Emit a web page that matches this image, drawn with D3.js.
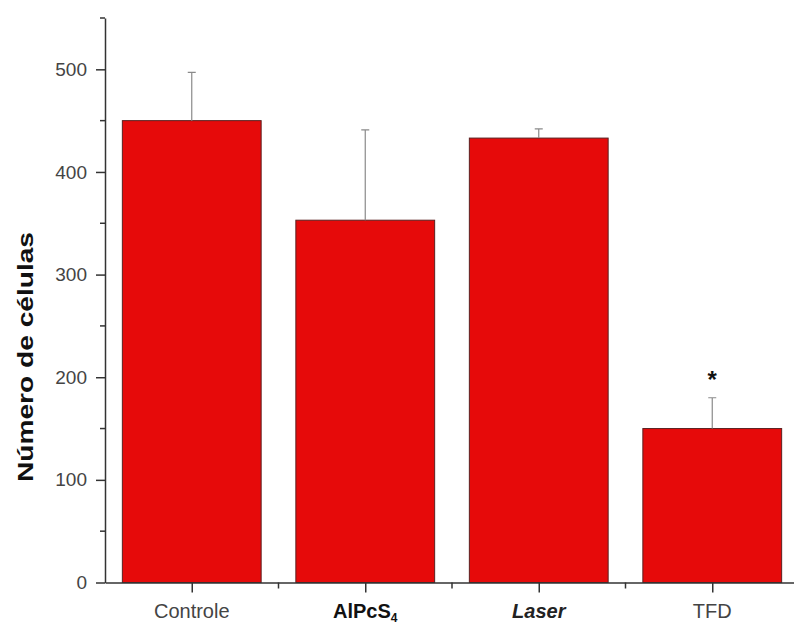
<!DOCTYPE html>
<html>
<head>
<meta charset="utf-8">
<script src="https://cdn.jsdelivr.net/npm/d3@7"></script>
<style>
  html, body { margin: 0; padding: 0; background: #fff; }
  svg { display: block; }
</style>
</head>
<body>
<div id="plot"></div>
<script>
// values
const categories = ["Controle", "AlPcS4", "Laser", "TFD"];
const means = [450, 353, 433, 150];
const errors = [47, 88, 9, 30];
const marked = [false, false, false, true];
const y_major = [0, 100, 200, 300, 400, 500];
const y_minor = [50, 150, 250, 350, 450, 550];

const width = 794;
const height = 626;

const svg = d3.select("#plot").append("svg")
    .attr("width", width)
    .attr("height", height);

const x = d3.scaleLinear().domain([0.5, 4.5]).range([105, 799]);
const y = d3.scaleLinear().domain([0, 550]).range([582.5, 18]);
const bw = x(1.4) - x(0.6);

//bars
svg.append("g")
    .selectAll("rect")
    .data(means)
    .join("rect")
    .attr("x", (d, i) => x(i + 1) - bw / 2)
    .attr("y", d => y(d))
    .attr("width", bw)
    .attr("height", d => y(0) - y(d))
    .attr("fill", "#e60a0a")
    .attr("stroke", "#5a2020")
    .attr("stroke-width", 1);

//error bars, upper half only
const err = svg.append("g")
    .attr("stroke", "#8a8a8a")
    .attr("stroke-width", 1.2)
    .attr("fill", "none");
err.selectAll("path")
    .data(means)
    .join("path")
    .attr("d", (d, i) => {
        const cx = x(i + 1);
        const top = y(d + errors[i]);
        return `M ${cx},${y(d)} V ${top} M ${cx - 4},${top} H ${cx + 4}`;
    });

//significance mark
svg.append("g")
    .selectAll("text")
    .data(means.map((d, i) => ({ d, i })).filter(o => marked[o.i]))
    .join("text")
    .attr("x", o => x(o.i + 1))
    .attr("y", o => y(o.d + errors[o.i]) - 10)
    .attr("text-anchor", "middle")
    .attr("font-family", "Liberation Sans, Arial, sans-serif")
    .attr("font-weight", "bold")
    .attr("font-size", 24)
    .attr("fill", "#111")
    .text("*");

//y axis
const yAxis = svg.append("g")
    .attr("transform", `translate(${x(0.5)},0)`)
    .call(d3.axisLeft(y).tickValues(y_major).tickSize(9).tickSizeOuter(0).tickPadding(9));
yAxis.append("g")
    .selectAll("line")
    .data(y_minor)
    .join("line")
    .attr("x1", -5)
    .attr("x2", 0)
    .attr("y1", d => y(d))
    .attr("y2", d => y(d))
    .attr("stroke", "#333")
    .attr("stroke-width", 1.5);

//x axis
const xAxis = svg.append("g")
    .attr("transform", `translate(0,${y(0)})`)
    .call(d3.axisBottom(x).tickValues([1, 2, 3, 4]).tickSize(10).tickSizeOuter(0).tickFormat(() => ""));
xAxis.append("g")
    .selectAll("line")
    .data([1.5, 2.5, 3.5])
    .join("line")
    .attr("x1", d => x(d))
    .attr("x2", d => x(d))
    .attr("y1", 0)
    .attr("y2", 6)
    .attr("stroke", "#333")
    .attr("stroke-width", 1.5);

svg.selectAll(".domain, .tick line")
    .attr("stroke", "#333")
    .attr("stroke-width", 1.5);

yAxis.selectAll(".tick text")
    .attr("font-family", "Liberation Sans, Arial, sans-serif")
    .attr("font-size", 19)
    .attr("fill", "#444");

//category labels
const labels = svg.append("g")
    .attr("font-family", "Liberation Sans, Arial, sans-serif")
    .attr("font-size", 20)
    .attr("fill", "#444")
    .attr("text-anchor", "middle");
categories.forEach((c, i) => {
    const t = labels.append("text")
        .attr("x", x(i + 1))
        .attr("y", 618);
    if (c === "AlPcS4") {
        t.attr("font-weight", "bold").attr("fill", "#111");
        t.append("tspan").text("AlPcS");
        t.append("tspan").attr("font-size", 12).attr("dy", 4).text("4");
    } else if (c === "Laser") {
        t.attr("font-weight", "bold").attr("font-style", "italic").attr("fill", "#222").text(c);
    } else {
        t.text(c);
    }
});

//y title
svg.append("text")
    .attr("transform", "rotate(-90)")
    .attr("x", -357)
    .attr("y", 33)
    .attr("text-anchor", "middle")
    .attr("font-family", "Liberation Sans, Arial, sans-serif")
    .attr("font-weight", "bold")
    .attr("font-size", 22)
    .attr("fill", "#111")
    .attr("textLength", 250)
    .attr("lengthAdjust", "spacingAndGlyphs")
    .text("Número de células");
</script>
</body>
</html>
